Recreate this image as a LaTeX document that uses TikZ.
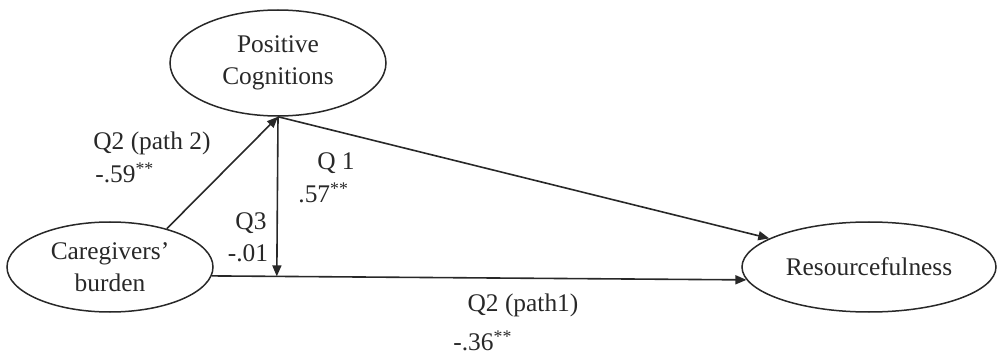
\documentclass[tikz,border=0pt]{standalone}
\usepackage{fontspec}
\setmainfont{Liberation Serif}
\usetikzlibrary{shapes.geometric,arrows.meta,calc}
\definecolor{ink}{RGB}{40,40,40}
\begin{document}
\begin{tikzpicture}[x=0.5pt,y=-0.5pt,
  every node/.style={font=\fontsize{12.7}{16}\selectfont, text=ink},
  latent/.style={draw=ink, line width=0.75pt, shape=ellipse, inner sep=0pt, align=center},
  lbl/.style={inner sep=0pt},
  conn/.style={draw=ink, line width=0.8pt, -{Triangle[length=5.5pt,width=4.5pt]}}
]
\useasboundingbox (0,0) rectangle (997,358);
\node[latent, minimum width=108pt, minimum height=53pt] (pc) at (278,63) {Positive\\Cognitions};
\node[latent, minimum width=103pt, minimum height=45pt] (cb) at (110,267) {Caregivers'\\burden};
\node[latent, minimum width=127pt, minimum height=45pt] (rs) at (869,267) {Resourcefulness};

\draw[conn] (cb.34) -- (pc.south);
\draw[conn] (pc.south) -- (rs.164);
\draw[conn] (cb.-5) -- (rs.186);
\coordinate (m) at ($(cb.-5)!(pc.south)!(rs.186)$);
\draw[conn] (pc.south) -- (m);

\node[lbl, anchor=west] (l1) at (93,143) {Q2 (path 2)};
\node[lbl, anchor=west] (l2) at (95,173) {-.59\textsuperscript{**}};
\node[lbl] (l3) at (336,163) {Q 1};
\node[lbl, anchor=west] (l4) at (298,193) {.57\textsuperscript{**}};
\node[lbl] (l5) at (251,223) {Q3};
\node[lbl] (l6) at (248,253) {-.01};
\node[lbl] (l7) at (523,305) {Q2 (path1)};
\node[lbl, anchor=west] (l8) at (453,341) {-.36\textsuperscript{**}};
\end{tikzpicture}
\end{document}
